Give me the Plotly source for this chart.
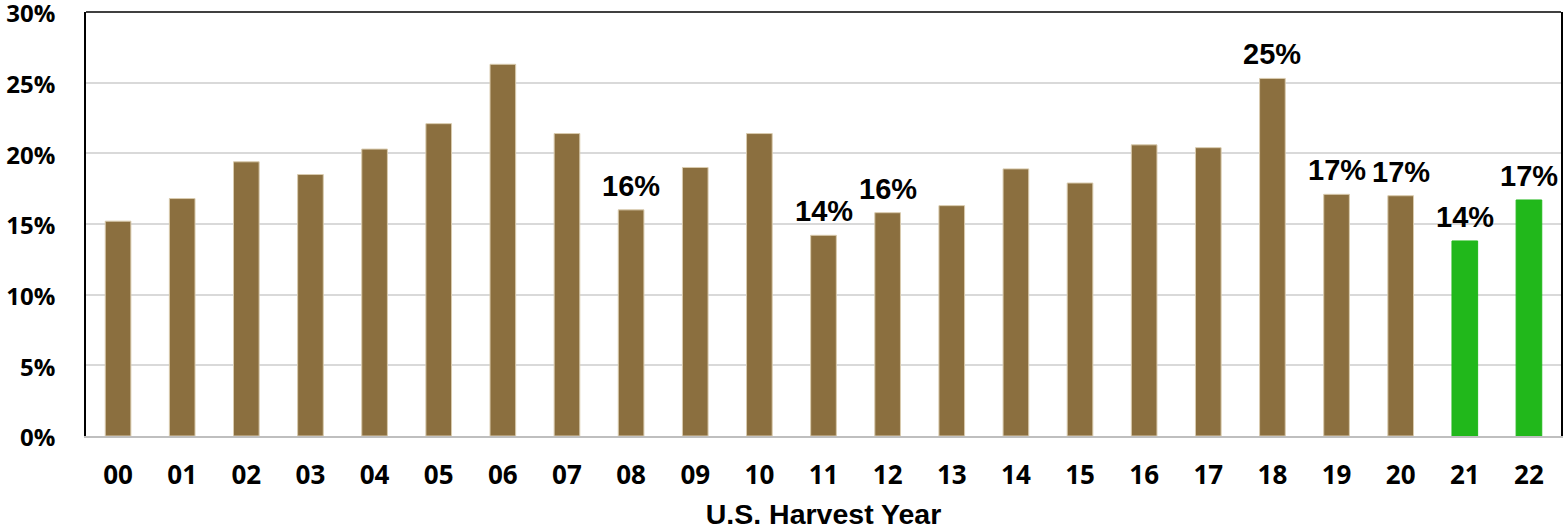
import plotly.graph_objects as go

years = ["00", "01", "02", "03", "04", "05", "06", "07", "08", "09", "10", "11",
         "12", "13", "14", "15", "16", "17", "18", "19", "20", "21", "22"]
values = [15.2, 16.8, 19.4, 18.5, 20.3, 22.1, 26.3, 21.4, 16.0, 19.0, 21.4, 14.2,
          15.8, 16.3, 18.9, 17.9, 20.6, 20.4, 25.3, 17.1, 17.0, 13.8, 16.7]
labeled_years = ["08", "11", "12", "18", "19", "20", "21", "22"]
highlight_years = ["21", "22"]

BROWN = "#8B6F3F"
GREEN = "#21B81B"

colors = [GREEN if y in highlight_years else BROWN for y in years]
edge_colors = [GREEN if y in highlight_years else "#D9CBAE" for y in years]

fig = go.Figure()
fig.add_trace(go.Bar(
    x=years, y=values,
    marker=dict(color=colors, line=dict(color=edge_colors, width=1)),
    hoverinfo="skip",
))

for y, v in zip(years, values):
    if y in labeled_years:
        fig.add_annotation(
            x=y, y=v, text=f"{round(v):d}%", showarrow=False,
            yanchor="bottom", yshift=6,
            font=dict(family="Liberation Sans", size=29, color="#000000", weight="bold"),
        )

# top border of the plot frame
fig.add_shape(type="line", xref="paper", yref="paper", x0=0, x1=1, y0=1, y1=1,
              line=dict(color="#000000", width=1.5))

fig.update_layout(
    width=1564, height=530,
    margin=dict(l=86, r=3, t=12, b=94),
    paper_bgcolor="white", plot_bgcolor="white",
    bargap=0.6,
    showlegend=False,
    xaxis=dict(
        type="category", automargin=False,
        showline=True, linecolor="#BFBFBF", linewidth=2,
        showgrid=False, ticks="", ticklabelstandoff=15,
        tickfont=dict(family="Open Sans", size=26, color="#000000", weight="bold"),
        title=dict(text="U.S. Harvest Year", standoff=19,
                   font=dict(family="Liberation Sans", size=28.5, color="#000000", weight="bold")),
    ),
    yaxis=dict(
        range=[0, 30], dtick=5, tickformat=".0f", ticksuffix="%", automargin=False,
        ticklabeloverflow="allow", ticklabelshift=2,
        showline=True, linecolor="#000000", linewidth=1.5, mirror=True,
        showgrid=True, gridcolor="#D9D9D9", gridwidth=2,
        zeroline=False, ticks="", ticklabelstandoff=24,
        tickfont=dict(family="Open Sans", size=24, color="#000000", weight="bold"),
    ),
)

fig.write_html("out.html", config={"displayModeBar": False},
               post_script="document.body.style.margin='0';")
